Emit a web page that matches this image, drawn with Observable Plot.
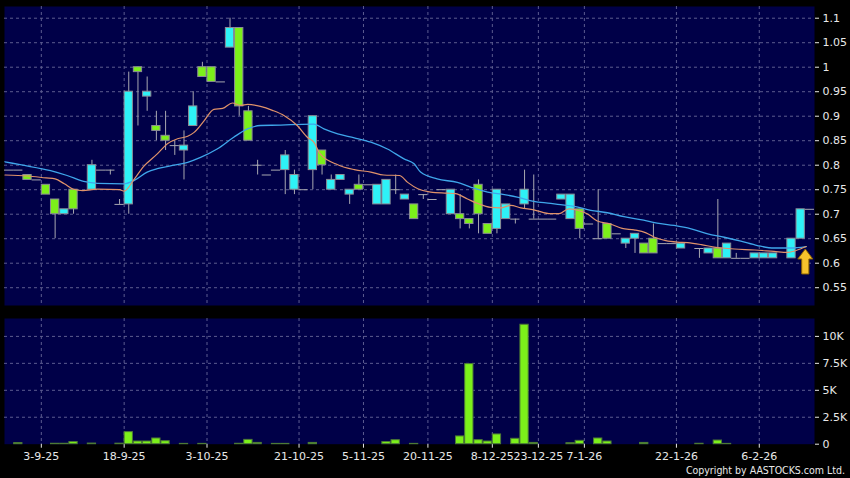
<!DOCTYPE html>
<html><head><meta charset="utf-8">
<script src="https://cdn.jsdelivr.net/npm/d3@7"></script>
<script src="https://cdn.jsdelivr.net/npm/@observablehq/plot@0.6"></script>
<style>
html,body{margin:0;padding:0;background:#000;}
#wrap{position:relative;width:850px;height:478px;background:#000;overflow:hidden;font-family:"DejaVu Sans",sans-serif;}
#price{position:absolute;left:0;top:0;}
#vol{position:absolute;left:0;top:305px;}
#copy{position:absolute;right:5px;top:464px;color:#e8e8e8;font-family:"DejaVu Sans Condensed","DejaVu Sans",sans-serif;font-size:10.5px;line-height:13px;white-space:nowrap;}
svg{display:block;}
</style></head><body>
<div id="wrap"><div id="price"></div><div id="vol"></div><div id="copy">Copyright by AASTOCKS.com Ltd.</div></div>
<script>
// ---- data (one entry per trading slot, null = no candle) ----
const opens  = [0.79,0.79,0.78,0.77,0.76,0.73,0.70,0.75,null,0.75, 0.79,0.79,0.72,0.72,1.00,0.94,0.88,0.86,0.84,0.83, 0.88,1.00,1.00,0.97,1.04,1.08,0.91,0.80,0.78,0.79, 0.79,0.75,0.75,0.79,0.83,0.75,0.77,0.74,0.76,0.76, 0.72,0.72,0.75,0.73,0.72,0.74,0.73,0.75,0.70,0.70, 0.69,0.76,0.68,0.67,0.69,0.69,0.72,0.69,0.69,0.69, 0.73,0.69,0.71,0.68,0.65,0.68,0.66,0.64,0.65,0.64, 0.65,0.64,0.64,0.63,null,0.63,0.62,0.63,0.61,0.61, 0.61,0.61,0.61,0.61,null,0.61,0.65,0.71];
const highs  = [0.79,0.79,0.78,0.77,0.76,0.73,0.71,0.75,null,0.81, 0.79,0.79,0.73,0.99,1.00,0.98,0.91,0.91,0.85,0.87, 0.95,1.01,1.00,0.97,1.10,1.08,0.92,0.81,0.78,0.79, 0.83,0.79,0.75,0.90,0.83,0.78,0.78,0.75,0.78,0.76, 0.76,0.77,0.78,0.74,0.72,0.74,0.73,0.75,0.75,0.74, 0.69,0.77,0.68,0.75,0.72,0.69,0.79,0.78,0.69,0.69, 0.74,0.74,0.71,0.68,0.75,0.68,0.66,0.65,0.66,0.64, 0.68,0.64,0.64,0.64,null,0.63,0.63,0.73,0.64,0.62, 0.61,0.62,0.62,0.62,null,0.65,0.71,0.71];
const lows   = [0.79,0.79,0.77,0.77,0.74,0.65,0.70,0.70,null,0.75, 0.79,0.78,0.72,0.70,0.88,0.91,0.85,0.83,0.82,0.77, 0.88,0.98,0.97,0.97,1.04,0.90,0.85,0.78,0.78,0.79, 0.74,0.74,0.75,0.75,0.78,0.75,0.77,0.72,0.75,0.76, 0.72,0.72,0.74,0.73,0.69,0.73,0.73,0.75,0.70,0.67, 0.67,0.66,0.66,0.66,0.69,0.68,0.71,0.69,0.69,0.69, 0.73,0.69,0.65,0.68,0.65,0.65,0.66,0.63,0.62,0.62, 0.62,0.64,0.64,0.63,null,0.61,0.62,0.61,0.61,0.61, 0.61,0.61,0.61,0.61,null,0.61,0.65,0.71];
const closes = [0.79,0.79,0.77,0.77,0.74,0.70,0.71,0.71,null,0.80, 0.79,0.79,0.72,0.95,0.99,0.95,0.87,0.85,0.84,0.84, 0.92,0.98,0.97,0.97,1.08,0.92,0.85,0.80,0.78,0.79, 0.82,0.78,0.75,0.90,0.80,0.77,0.78,0.75,0.75,0.76, 0.76,0.77,0.75,0.74,0.69,0.74,0.73,0.75,0.75,0.69, 0.68,0.70,0.66,0.75,0.72,0.69,0.75,0.69,0.69,0.69, 0.74,0.74,0.67,0.68,0.65,0.65,0.66,0.65,0.66,0.62, 0.62,0.64,0.64,0.64,null,0.63,0.63,0.61,0.64,0.61, 0.61,0.62,0.62,0.62,null,0.65,0.71,0.71];
const volumes = [0,100,0,0,0,40,40,200,0,60, 0,0,50,1120,250,250,530,280,0,30, 0,30,0,0,0,40,400,120,0,30, 30,0,0,120,0,0,0,0,0,0, 0,200,370,0,30,0,0,0,0,720, 7430,375,250,905,0,500,11080,120,0,0, 0,90,310,0,530,250,0,0,0,120, 0,0,0,0,0,40,0,340,30,0, 0,0,0,0,0,0,0,0];

// moving averages (slot position, value)
const maShortSlots = [-0.45,2,4,5,6,7,8,9.6,12,12.5,13.5,14.6,16.1,17.2,18.3,19.4,20.1,21.2,22.25,23.2,24.25,25.2,25.9,27.3,28.6,29.9,31.3,32.4,33.1,33.8,35.7,37.5,39.3,40.7,42.4,43.3,44.4,45.8,47.6,48.5,49.8,50.9,52.3,53.4,54.5,55.6,57,58.85,59.75,60.8,61.75,62.8,63.9,65.3,66.6,67.9,69.2,70.1,71.35,72.6,73.7,75.2,76.6,77.5,78.8,81,83.1,84.6,85.5,86.6];
const maShortValues = [0.780,0.778,0.774,0.772,0.762,0.751,0.748,0.751,0.750,0.747,0.769,0.797,0.823,0.844,0.854,0.859,0.867,0.891,0.914,0.916,0.927,0.922,0.924,0.920,0.912,0.901,0.881,0.857,0.847,0.823,0.801,0.791,0.786,0.780,0.779,0.765,0.752,0.745,0.743,0.742,0.731,0.722,0.714,0.713,0.718,0.713,0.709,0.701,0.701,0.711,0.708,0.701,0.686,0.680,0.671,0.668,0.662,0.653,0.646,0.643,0.642,0.638,0.633,0.631,0.629,0.627,0.624,0.622,0.626,0.634];
const maLongSlots = [-0.45,1.2,4.5,6.3,8.1,9.6,12.5,13.6,15,16.1,17.9,19.4,20.8,22.6,24.4,25.9,27.3,29.5,30.6,33.1,34.2,35.7,37.5,39.3,41.1,42.9,44,44.7,46.5,48.7,50.2,52,53.8,55.2,57,58.85,59.6,61.4,63.2,65,66.8,68.6,70.4,72.25,74.1,75.9,77.7,79.5,81.3,83.1,84.9,86.6];
const maLongValues = [0.807,0.801,0.789,0.779,0.767,0.763,0.762,0.769,0.786,0.793,0.800,0.806,0.816,0.833,0.857,0.874,0.881,0.882,0.883,0.884,0.874,0.864,0.856,0.847,0.833,0.813,0.803,0.786,0.772,0.765,0.755,0.745,0.740,0.735,0.726,0.722,0.720,0.716,0.708,0.703,0.695,0.689,0.682,0.677,0.670,0.660,0.653,0.645,0.636,0.631,0.631,0.634];

// axes
const priceTicks = [0.55,0.6,0.65,0.7,0.75,0.8,0.85,0.9,0.95,1,1.05,1.1];
const volTicks = [0,2500,5000,7500,10000];
const volTickLabels = ["0","2.5K","5K","7.5K","10K"];
const dateTickSlots = [3.5,12.5,21.5,31.5,38.5,45.5,52.5,57.5,62.5,72.5,81.5];
const dateTickLabels = ["3-9-25","18-9-25","3-10-25","21-10-25","5-11-25","20-11-25","8-12-25","23-12-25","7-1-26","22-1-26","6-2-26"];
const markerSlot = [86.5];
const markerPrice = [0.6035];

// ---- styling ----
const PANEL = "#000048", GRID = "#5c5c90", WICK = "#a8a8b0", BORDER = "#8c8c96";
const UP = "#2ef2f7", DOWN = "#7cf01a", TXT = "#e8e8e8";
const xDomain = [-0.5, 87.5];
const half = 0.45;

const rows = opens.map((o,i)=>({i,o,h:highs[i],l:lows[i],c:closes[i]})).filter(d=>d.o!=null);
const bodies = rows.filter(d=>d.o!==d.c);
const dojis = rows.filter(d=>d.o===d.c);
const wicks = rows.filter(d=>d.h>Math.max(d.o,d.c) || d.l<Math.min(d.o,d.c));
const maShort = maShortSlots.map((s,k)=>({s, v: maShortValues[k]}));
const maLong = maLongSlots.map((s,k)=>({s, v: maLongValues[k]}));
const vols = volumes.map((v,i)=>({i,v})).filter(d=>d.v>0);
const marker = markerSlot.map((s,k)=>({s, p: markerPrice[k]}));
const volLabel = new Map(volTicks.map((t,k)=>[t, volTickLabels[k]]));
const dateLabel = new Map(dateTickSlots.map((t,k)=>[t, dateTickLabels[k]]));

const arrowSymbol = { draw(ctx) {
  ctx.moveTo(0,-12.5); ctx.lineTo(7.5,-2.5); ctx.lineTo(3.6,-2.5); ctx.lineTo(3.6,12.5);
  ctx.lineTo(-3.6,12.5); ctx.lineTo(-3.6,-2.5); ctx.lineTo(-7.5,-2.5); ctx.closePath();
}};

const common = {width: 850, marginLeft: 4, marginRight: 36,
  style: {background: "transparent", color: TXT, fontFamily: "DejaVu Sans, sans-serif", fontSize: "11px", overflow: "visible"}};

const pricePlot = Plot.plot({
  ...common, height: 310, marginTop: 6, marginBottom: 5,
  x: {domain: xDomain, axis: null},
  y: {domain: [0.5137, 1.1239], axis: null},
  marks: [
    Plot.frame({fill: PANEL, stroke: null}),
    Plot.gridY(priceTicks, {stroke: GRID, strokeOpacity: 1, strokeDasharray: "3,3"}),
    Plot.gridX(dateTickSlots, {stroke: GRID, strokeOpacity: 1, strokeDasharray: "3,3"}),
    Plot.axisY(priceTicks, {anchor: "right", tickSize: 4, tickPadding: 4, label: null, tickFormat: d => String(d), stroke: TXT, fill: TXT}),
    Plot.ruleX(wicks, {x: "i", y1: "l", y2: "h", stroke: WICK, strokeWidth: 1}),
    Plot.ruleY(dojis, {y: "c", x1: d => d.i - 0.5, x2: d => d.i + 0.5, stroke: WICK, strokeWidth: 1}),
    Plot.rect(bodies, {x1: d => d.i - half, x2: d => d.i + half, y1: "o", y2: "c", fill: d => d.c > d.o ? UP : DOWN, stroke: BORDER, strokeWidth: 1}),
    Plot.line(maLong, {x: "s", y: "v", stroke: "#3fa6ea", strokeWidth: 1.3, curve: "monotone-x"}),
    Plot.line(maShort, {x: "s", y: "v", stroke: "#e0926a", strokeWidth: 1.2, curve: "monotone-x"}),
    Plot.dot(marker, {x: "s", y: "p", symbol: arrowSymbol, fill: "#f6c22c", stroke: "#8a6200", strokeWidth: 1, r: 8})
  ]
});
document.getElementById("price").appendChild(pricePlot);

const volPlot = Plot.plot({
  ...common, height: 173, marginTop: 13, marginBottom: 34.3,
  x: {domain: xDomain, axis: null},
  y: {domain: [0, 11660], axis: null},
  marks: [
    Plot.frame({fill: PANEL, stroke: null}),
    Plot.gridY(volTicks.filter(t=>t>0), {stroke: GRID, strokeOpacity: 1, strokeDasharray: "3,3"}),
    Plot.gridX(dateTickSlots, {stroke: GRID, strokeOpacity: 1, strokeDasharray: "3,3"}),
    Plot.axisY(volTicks, {anchor: "right", tickSize: 4, tickPadding: 4, label: null, tickFormat: d => volLabel.get(d), stroke: TXT, fill: TXT}),
    Plot.axisX(dateTickSlots, {anchor: "bottom", tickSize: 4, tickPadding: 4, label: null, tickFormat: d => dateLabel.get(d), stroke: TXT, fill: TXT}),
    Plot.rect(vols, {x1: d => d.i - half, x2: d => d.i + half, y1: 0, y2: "v", fill: DOWN, stroke: "#4d7a36", strokeWidth: 1})
  ]
});
document.getElementById("vol").appendChild(volPlot);
</script>
</body></html>
